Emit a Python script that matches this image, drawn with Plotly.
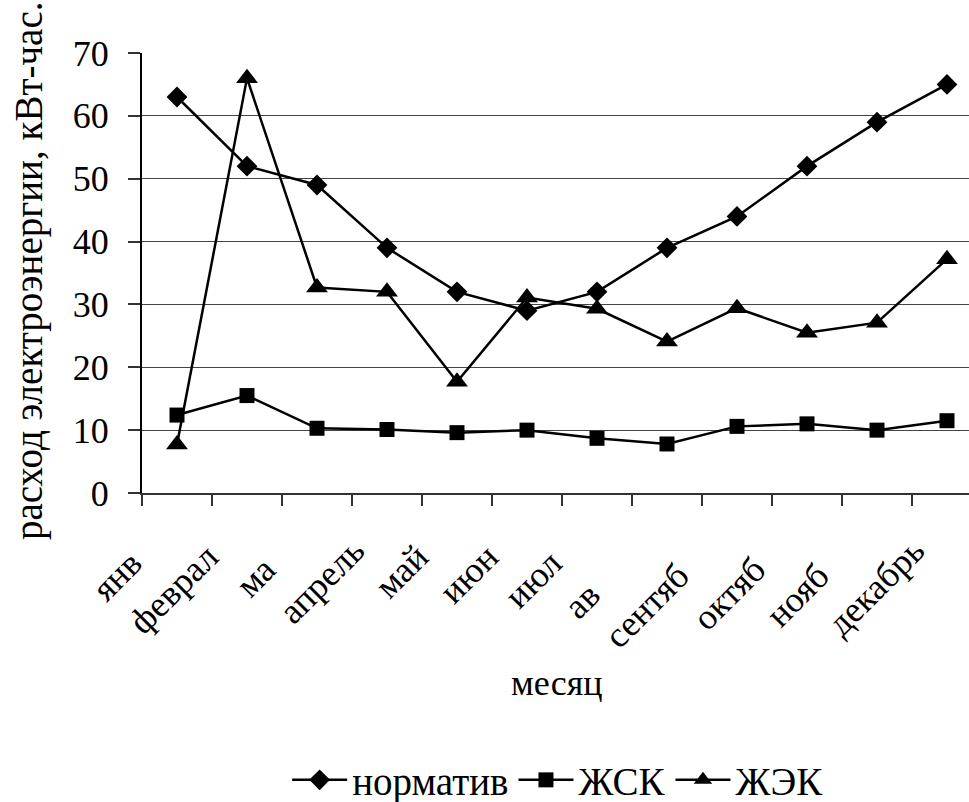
import plotly.graph_objects as go

# Monthly electricity consumption, kWh
months = ["янв", "феврал", "ма", "апрель", "май", "июн", "июл", "ав",
          "сентяб", "октяб", "нояб", "декабрь"]
normativ = [63, 52, 49, 39, 32, 29, 32, 39, 44, 52, 59, 65]
zhsk = [12.4, 15.5, 10.3, 10.1, 9.6, 10.0, 8.7, 7.8, 10.6, 11.0, 10.0, 11.5]
zhek = [7.7, 66, 32.7, 32.0, 17.7, 31.1, 29.3, 24.1, 29.4, 25.5, 27.1, 37.2]

# trailing no-break spaces that push short labels further down the diagonal
label_pad = [2, 1, 3, 0, 1, 1, 2, 7, 4, 3, 4, 0]
tick_text = [m + "\u00a0" * p for m, p in zip(months, label_pad)]

series = [
    ("норматив", normativ, "diamond", 16),
    ("ЖСК", zhsk, "square", 15),
    ("ЖЭК", zhek, "triangle-up", 19),
]

FONT = "Liberation Serif"

fig = go.Figure()
for name, vals, symbol, size in series:
    fig.add_trace(go.Scatter(
        x=months, y=vals, name=name, mode="lines+markers",
        line=dict(color="black", width=2.5),
        marker=dict(symbol=symbol, size=size, color="black"),
    ))

W, H = 969, 802
left, top, bottom = 142, 53, 309
px_per_cat = 70
plot_w = W - left
plot_h = H - top - bottom
x_max = -0.5 + plot_w / px_per_cat

fig.update_layout(
    width=W, height=H,
    margin=dict(l=left, r=0, t=top, b=bottom, pad=0),
    paper_bgcolor="white", plot_bgcolor="white",
    font=dict(family=FONT, size=36, color="black"),
    showlegend=True,
    legend=dict(orientation="h", xref="container", x=0.576, xanchor="center",
                yref="container", y=1 - 780 / H, yanchor="middle",
                font=dict(family=FONT, size=39), tracegroupgap=0,
                itemwidth=55),
)
fig.update_xaxes(
    type="category", range=[-0.5, x_max], automargin=False,
    tickmode="array", tickvals=months, ticktext=tick_text,
    showline=True, linecolor="#333", linewidth=2,
    ticks="outside", tickson="boundaries", ticklen=11, tickcolor="#333",
    tickwidth=1.5, tickangle=-45, showgrid=False,
    ticklabelstandoff=20, ticklabelshift=-33,
    tickfont=dict(family=FONT, size=36),
)
fig.update_yaxes(
    range=[0, 70], dtick=10, automargin=False,
    showline=True, linecolor="black", linewidth=2,
    ticks="outside", ticklen=12, tickcolor="#333", tickwidth=1.5,
    ticklabelstandoff=12,
    showgrid=True, gridcolor="#444", gridwidth=1, zeroline=False,
    tickfont=dict(family=FONT, size=36),
)
# axis titles
fig.add_annotation(text="расход электроэнергии, кВт-час.", textangle=-90,
                   xref="paper", x=(29 - left) / plot_w, xanchor="center",
                   yref="paper", y=1 - (271 - top) / plot_h, yanchor="middle",
                   showarrow=False, font=dict(family=FONT, size=39))
fig.add_annotation(text="месяц", xref="paper", x=(556 - left) / plot_w,
                   xanchor="center", yref="paper",
                   y=1 - (683 - top) / plot_h, yanchor="middle",
                   showarrow=False, font=dict(family=FONT, size=36))

fig.write_html("out.html")
